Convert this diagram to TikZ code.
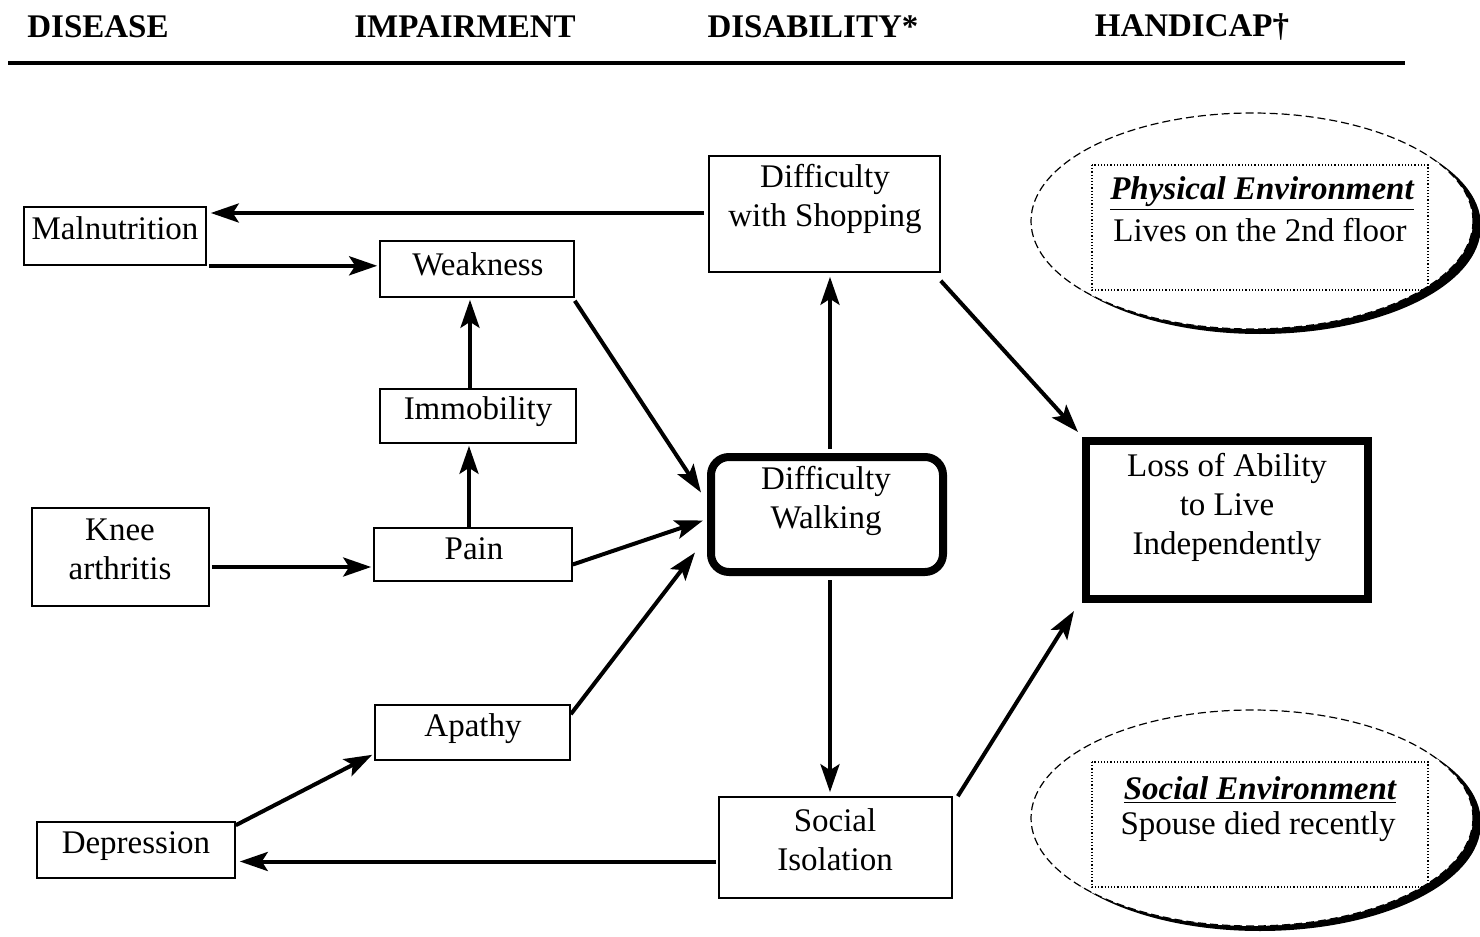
\documentclass[tikz,border=0pt]{standalone}
\usepackage{fontspec}
\setmainfont{Liberation Serif}
\usetikzlibrary{arrows.meta,calc}
\begin{document}
\begin{tikzpicture}[x=0.5pt,y=-0.5pt,
  every node/.style={font=\fontsize{16.5}{19.5}\selectfont, align=center},
  box/.style={draw, line width=0.8pt, inner sep=0pt},
  thickbox/.style={draw, line width=4pt, inner sep=0pt},
  txt/.style={inner sep=0pt},
  head/.style={font=\fontsize{16.5}{19.5}\selectfont\bfseries, inner sep=0pt},
  arr/.style={line width=2pt, -{Stealth[length=14pt,width=9.5pt,inset=3pt]}},
  envbox/.style={draw, densely dotted, line width=0.6pt},
  envtitle/.style={font=\fontsize{16.5}{19.5}\selectfont\bfseries\itshape, inner sep=0pt}
]
\useasboundingbox (0,0) rectangle (1480,937);
% headers
\node[head] (hDis) at (98,27) {DISEASE};
\node[head] (hImp) at (465,27) {IMPAIRMENT};
\node[head] (hDisab) at (813,27) {DISABILITY*};
\node[head] (hHand) at (1192,27) {HANDICAP\textdagger};
\draw[line width=2pt] (8,63) -- (1405,63);

% ellipses
\fill[black] (1260,226) ellipse [x radius=221, y radius=108];
\fill[white, draw=black, dash pattern=on 4pt off 2pt, line width=0.6pt] (1252,221) ellipse [x radius=221, y radius=108];
\draw[envbox] (1092,165) rectangle (1428,290);
\node[envtitle] (pe) at (1262,194) {\underline{Physical Environment}};
\node[txt] (pe2) at (1260,230) {Lives on the 2nd floor};

\fill[black] (1260,823) ellipse [x radius=221, y radius=108];
\fill[white, draw=black, dash pattern=on 4pt off 2pt, line width=0.6pt] (1252,818) ellipse [x radius=221, y radius=108];
\draw[envbox] (1092,762) rectangle (1428,887);
\node[envtitle] (se) at (1260,790) {\underline{Social Environment}};
\node[txt] (se2) at (1258,827) {Spouse died recently};

% boxes
\node[box, minimum width=91pt, minimum height=29pt] (mal) at (115,236) {};
\node[txt] at (115,228) {Malnutrition};
\node[box, minimum width=97pt, minimum height=28pt] (weak) at (477,269) {};
\node[txt] at (478,264) {Weakness};
\node[box, minimum width=98pt, minimum height=27pt] (immob) at (478,416) {};
\node[txt] at (478,412) {Immobility};
\node[box, minimum width=88.5pt, minimum height=49pt] (knee) at (120.5,557) {};
\node[txt] at (120,549) {Knee\\arthritis};
\node[box, minimum width=99pt, minimum height=26.5pt] (pain) at (473,554.5) {};
\node[txt] at (474,549) {Pain};
\node[box, minimum width=97.5pt, minimum height=27.5pt] (apathy) at (472.5,732.5) {};
\node[txt] at (473,729) {Apathy};
\node[box, minimum width=99pt, minimum height=28pt] (dep) at (136,850) {};
\node[txt] at (136,846) {Depression};
\node[box, minimum width=115.5pt, minimum height=58pt] (shop) at (824.5,214) {};
\node[txt] at (825,199) {Difficulty\\with Shopping};
\node[thickbox, rounded corners=9pt, minimum width=116pt, minimum height=57.5pt] (walk) at (827,514.5) {};
\node[txt] at (826,501) {Difficulty\\Walking};
\node[box, minimum width=116.5pt, minimum height=50.5pt] (social) at (835.5,847.5) {};
\node[txt] at (835,840) {Social\\Isolation};
\node[thickbox, minimum width=141pt, minimum height=79pt] (loss) at (1227,520) {};
\node[txt] at (1227,507) {Loss of Ability\\to Live\\Independently};

% connector coordinates
\coordinate (s0) at ([yshift=0.5pt]shop.west);
\coordinate (m0) at (mal.south east);
\coordinate (k0) at ([yshift=-5pt]knee.east);
\coordinate (i0) at ([xshift=-4pt]immob.north);
\coordinate (p0) at ([xshift=-2pt]pain.north);
\coordinate (w1) at ([xshift=-3pt,yshift=11pt]walk.west);
\coordinate (w2) at ([xshift=-2pt,yshift=-3pt]walk.west);
\coordinate (w3) at ([xshift=-6pt,yshift=-19pt]walk.west);
\coordinate (pa) at ([yshift=-5pt]pain.east);
\coordinate (ap) at ([yshift=-5pt]apathy.north east);
\coordinate (dp) at ([yshift=-2pt]dep.north east);
\coordinate (ap2) at ([xshift=-1pt,yshift=3pt]apathy.south west);
\coordinate (wn) at ([xshift=1.5pt]walk.north);
\coordinate (ws) at ([xshift=1.5pt]walk.south);
\coordinate (so) at ([yshift=-7pt]social.west);
\coordinate (l1) at ([xshift=-2pt,yshift=2.5pt]loss.north west);
\coordinate (l2) at ([xshift=-4pt,yshift=-4pt]loss.south west);
\coordinate (sh2) at ([yshift=-4pt]shop.south east);
\coordinate (sc2) at ([xshift=2.5pt]social.north east);

% connectors
\draw[arr, shorten <=2pt, shorten >=2pt] (s0) -- (s0 -| mal.east);
\draw[arr, shorten <=1pt, shorten >=1pt] (m0) -- (m0 -| weak.west);
\draw[arr, shorten >=1pt] (i0) -- (i0 |- weak.south);
\draw[arr, shorten >=1pt] (p0) -- (p0 |- immob.south);
\draw[arr, shorten <=1pt, shorten >=1pt] (k0) -- (k0 -| pain.west);
\draw[arr] ([yshift=-1.5pt]weak.south east) -- (w1);
\draw[arr] (pa) -- (w2);
\draw[arr] (ap) -- (w3);
\draw[arr] (dp) -- (ap2);
\draw[arr, shorten <=2pt, shorten >=2pt] (wn) -- (wn |- shop.south);
\draw[arr, shorten <=2pt, shorten >=2pt] (ws) -- (ws |- social.north);
\draw[arr, shorten <=1pt, shorten >=2pt] (so) -- (so -| dep.east);
\draw[arr] (sh2) -- (l1);
\draw[arr] (sc2) -- (l2);
\end{tikzpicture}
\end{document}
